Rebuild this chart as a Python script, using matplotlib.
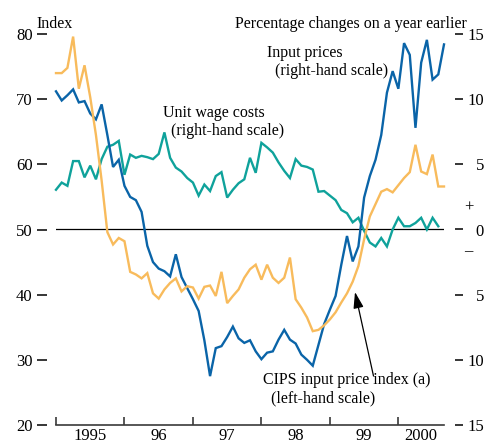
import numpy as np
import matplotlib
matplotlib.use("Agg")
import matplotlib.pyplot as plt
from matplotlib.transforms import blended_transform_factory

plt.rcParams['font.family'] = ['Liberation Serif', 'DejaVu Serif']

# ---------------- data (monthly, starting January 1995) ----------------
start_year = 1995
# CIPS input price index (left-hand scale, index)
cips_index = [74.0, 74.0, 74.8, 79.6, 71.6, 75.2, 70.3, 64.5, 57.5, 49.6,
              47.7, 48.7, 48.2, 43.5, 43.1, 42.5, 43.3, 40.2, 39.4, 40.8,
              41.8, 42.5, 40.5, 41.3, 41.1, 39.4, 41.2, 41.4, 39.8, 43.5,
              38.7, 39.8, 40.8, 42.6, 43.9, 44.6, 42.3, 44.6, 42.6, 41.8,
              42.6, 45.7, 39.3, 38.0, 36.5, 34.4, 34.6, 35.3, 36.2, 37.3,
              38.8, 40.2, 42.0, 44.4, 48.5, 52.0, 53.9, 55.8, 56.2, 55.7,
              56.8, 57.9, 58.8, 63.0, 58.9, 58.5, 61.5, 56.6, 56.6]
# Input prices (right-hand scale, % change on a year earlier)
input_prices = [10.6, 9.9, 10.3, 10.75, 9.75, 9.85, 8.9, 8.45, 9.6, 7.25,
                4.8, 5.35, 3.35, 2.5, 2.25, 1.35, -1.25, -2.5, -3.0, -3.2,
                -3.6, -1.9, -3.65, -4.5, -5.35, -6.25, -8.5, -11.25, -9.1, -8.95,
                -8.25, -7.45, -8.35, -8.7, -8.5, -9.35, -9.95, -9.45, -9.35, -8.45,
                -7.7, -8.45, -8.75, -9.6, -10.0, -10.45, -8.85, -7.25, -6.15, -5.1,
                -2.7, -0.5, -2.45, -1.3, 2.45, 4.1, 5.35, 7.25, 10.5, 12.15,
                10.8, 14.3, 13.4, 7.8, 12.8, 14.55, 11.5, 11.9, 14.2]
# Unit wage costs (right-hand scale, % change on a year earlier)
unit_wage_costs = [3.05, 3.6, 3.35, 5.25, 5.25, 4.0, 4.9, 3.85, 5.4, 6.35,
                   6.5, 6.8, 4.2, 5.75, 5.5, 5.65, 5.55, 5.4, 5.8, 7.45,
                   5.5, 4.75, 4.45, 3.95, 3.6, 2.6, 3.45, 2.95, 4.1, 4.4,
                   2.45, 3.05, 3.55, 3.85, 5.5, 4.35, 6.65, 6.3, 5.9, 5.15,
                   4.5, 3.95, 5.4, 4.9, 4.8, 4.6, 2.9, 2.95, 2.6, 2.25,
                   1.5, 1.25, 0.55, 0.9, -0.1, -1.0, -1.3, -0.65, -1.3, 0.0,
                   0.9, 0.25, 0.25, 0.5, 0.9, 0.0, 0.9, 0.25]

left_ticks = [20, 30, 40, 50, 60, 70, 80]
right_ticks = [-15, -10, -5, 0, 5, 10, 15]
right_tick_labels = ['15', '10', '5', '0', '5', '10', '15']
year_ticks = [1995, 1996, 1997, 1998, 1999, 2000]
year_labels = ['1995', '96', '97', '98', '99', '2000']

BLUE = '#0a64a8'
ORANGE = '#f8bb5c'
TEAL = '#0fa29b'

W, H = 485, 444
fig = plt.figure(figsize=(W / 100, H / 100), dpi=100)


def fx(x):
    return x / W


def fy(y):
    return 1 - y / H


ax = fig.add_axes([fx(56), fy(425), (444 - 56) / W, (425 - 34) / H])
ax2 = ax.twinx()
ax.set_zorder(ax2.get_zorder() + 1)
ax.patch.set_visible(False)

x_cips = start_year + np.arange(len(cips_index)) / 12
x_inp = start_year + np.arange(len(input_prices)) / 12
x_uwc = start_year + np.arange(len(unit_wage_costs)) / 12

ax2.axhline(0, color='black', lw=0.9, zorder=1)
ax2.plot(x_uwc, unit_wage_costs, color=TEAL, lw=1.7, zorder=2, clip_on=False,
         solid_joinstyle='miter')
ax2.plot(x_inp, input_prices, color=BLUE, lw=1.7, zorder=3, clip_on=False,
         solid_joinstyle='miter')
ax.plot(x_cips, cips_index, color=ORANGE, lw=1.7, zorder=3, clip_on=False,
        solid_joinstyle='miter')

xmax = start_year + (len(cips_index) - 1) / 12
ax.set_xlim(start_year, xmax)
ax.set_ylim(20, 80)
ax2.set_ylim(-15, 15)

# spines
for s in ['top', 'right', 'left']:
    ax.spines[s].set_visible(False)
for s in ['top', 'right', 'left', 'bottom']:
    ax2.spines[s].set_visible(False)
ax.spines['bottom'].set_color('#3a3a3a')
ax.spines['bottom'].set_linewidth(1.2)
ax.spines['left'].set_position(('outward', 6.8))
ax2.spines['right'].set_position(('outward', 8.0))

# y ticks
ax.set_yticks(left_ticks)
ax.set_yticklabels([str(t) for t in left_ticks])
ax.tick_params(axis='y', direction='out', length=7.2, width=1.1, pad=2.9,
               labelsize=12, colors='black')
ax2.set_yticks(right_ticks)
ax2.set_yticklabels(right_tick_labels)
ax2.tick_params(axis='y', direction='out', length=5.8, width=1.1, pad=15.0,
                labelsize=12, colors='black')
for lab in ax2.get_yticklabels():
    lab.set_horizontalalignment('right')

# x ticks: year boundaries as ticks, labels centred on each year
ax.set_xticks(year_ticks)
ax.set_xticklabels([])
ax.tick_params(axis='x', which='major', direction='in', length=6, width=1.2,
               color='#3a3a3a')
label_pos = [y + 0.5 for y in year_ticks[:-1]] + [(year_ticks[-1] + xmax) / 2]
ax.set_xticks(label_pos, minor=True)
ax.set_xticklabels(year_labels, minor=True)
ax.tick_params(axis='x', which='minor', length=0, pad=2.5, labelsize=12)

# text annotations
fs = 11.5
fig.text(fx(36), fy(28), 'Index', ha='left', va='baseline', fontsize=fs)
fig.text(fx(467), fy(28), 'Percentage changes on a year earlier', ha='right',
         va='baseline', fontsize=fs)
fig.text(fx(266.7), fy(75), 'Input prices\n  (right-hand scale)', ha='left',
         va='baseline', fontsize=fs, multialignment='left', linespacing=1.15)
fig.text(fx(163.3), fy(135), 'Unit wage costs\n  (right-hand scale)', ha='left',
         va='baseline', fontsize=fs, multialignment='left', linespacing=1.15)
fig.text(fx(263.3), fy(402), 'CIPS input price index (a)\n  (left-hand scale)',
         ha='left', va='baseline', fontsize=fs, multialignment='left',
         linespacing=1.15)

tr = blended_transform_factory(fig.transFigure, ax2.transData)
ax2.text(fx(468.5), 1.65, '+', transform=tr, ha='center', va='center', fontsize=12)
ax2.text(fx(468.5), -1.65, '\u2013', transform=tr, ha='center', va='center', fontsize=12)

ax.annotate('', xy=(fx(355), fy(292)), xycoords='figure fraction',
            xytext=(fx(373.5), fy(376)), textcoords='figure fraction',
            arrowprops=dict(arrowstyle='-|>,head_length=0.7,head_width=0.22',
                            color='black', lw=0.9, mutation_scale=14,
                            shrinkA=0, shrinkB=0))

fig.savefig('out.png', dpi=100)
